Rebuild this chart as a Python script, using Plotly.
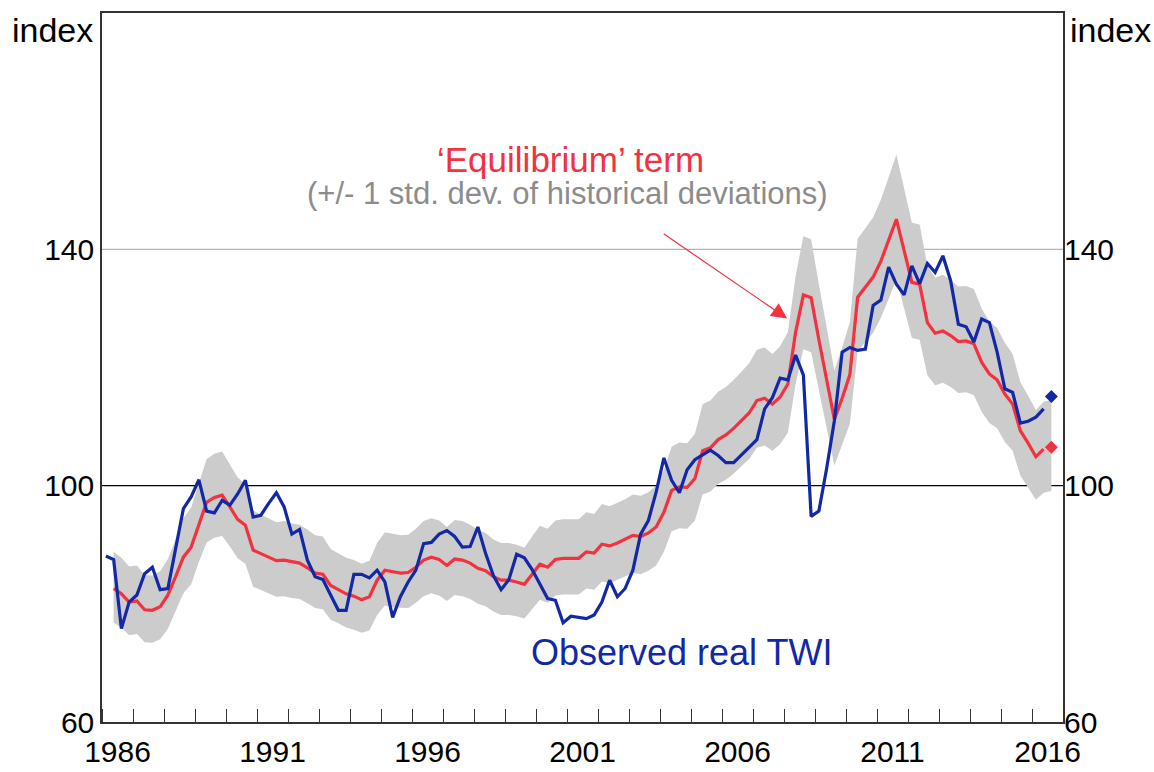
import pandas as pd
import plotly.graph_objects as go

# ---- Data (quarterly, 1986Q1 - 2016Q3; last quarter shown as a marker) ----

quarters = pd.period_range("1986Q1", "2016Q3", freq="Q")

observed_twi = [
    88.1, 87.5, 75.8, 80.3, 81.5, 85.1, 86.2, 82.4, 82.6, 89.6,
    96.1, 98.1, 101.0, 95.7, 95.4, 97.5, 96.7, 98.6, 100.9, 94.7,
    95.0, 97.0, 98.8, 96.4, 91.8, 92.6, 87.4, 84.6, 84.1, 81.5,
    78.9, 78.9, 85.0, 85.0, 84.4, 85.7, 83.7, 77.7, 81.2, 83.7,
    85.7, 90.2, 90.4, 91.8, 92.4, 91.4, 89.6, 89.7, 93.0, 88.5,
    84.8, 82.4, 84.1, 88.4, 87.8, 85.8, 83.4, 80.9, 80.6, 76.8,
    77.9, 77.7, 77.5, 78.1, 80.3, 84.0, 81.2, 82.6, 85.7, 91.8,
    94.1, 98.9, 104.7, 100.9, 98.8, 102.7, 104.4, 105.2, 106.0, 105.1,
    103.9, 103.9, 105.2, 106.4, 107.8, 113.0, 114.9, 118.2, 117.9, 122.1,
    118.7, 94.8, 95.7, 102.9, 111.0, 122.6, 123.4, 122.9, 123.1, 130.5,
    131.4, 137.0, 134.1, 132.3, 137.2, 134.2, 137.6, 136.1, 138.9, 134.7,
    127.3, 126.9, 124.3, 128.2, 127.6, 122.6, 116.4, 115.8, 110.6, 110.9,
    111.6, 113.0, 115.1,
]

equilibrium = [
    None, 82.6, 81.7, 80.3, 80.5, 79.0, 78.9, 79.5, 81.5, 84.6,
    87.9, 89.6, 93.6, 97.2, 98.0, 98.4, 96.4, 94.3, 93.3, 89.1,
    88.5, 87.9, 87.3, 87.4, 87.1, 86.9, 86.1, 85.2, 85.0, 83.1,
    82.4, 81.7, 81.3, 80.7, 81.2, 84.0, 85.7, 85.4, 85.2, 85.3,
    86.2, 87.4, 87.9, 87.5, 86.5, 87.6, 87.4, 86.9, 86.0, 85.6,
    84.6, 84.0, 84.0, 83.7, 83.3, 85.0, 86.7, 86.2, 87.5, 87.7,
    87.7, 87.7, 88.8, 88.6, 90.1, 89.8, 90.3, 90.9, 91.6, 91.4,
    92.0, 93.0, 95.5, 99.2, 99.8, 99.7, 101.2, 105.9, 106.4, 107.8,
    108.6, 109.7, 111.0, 112.3, 114.4, 114.8, 113.8, 115.0, 117.2, 126.0,
    132.3, 131.8, 124.7, 118.0, 111.2, 114.8, 118.8, 131.9, 133.6, 135.3,
    138.0, 141.5, 145.1, 139.8, 134.4, 134.1, 127.6, 125.8, 126.2, 125.4,
    124.4, 124.5, 124.0, 120.9, 118.9, 117.9, 115.5, 113.8, 109.3, 107.2,
    104.9, 106.2, 106.5,
]

# +/- 1 std. dev. band around the equilibrium term
band_upper = [
    None, 88.8, 87.8, 86.3, 86.5, 84.9, 84.8, 85.5, 87.6, 90.9,
    94.5, 96.3, 100.6, 104.5, 105.4, 105.8, 103.6, 101.4, 100.3, 95.8,
    95.1, 94.5, 93.8, 94.0, 93.6, 93.4, 92.6, 91.6, 91.4, 89.3,
    88.6, 87.8, 87.4, 86.8, 87.3, 90.3, 92.1, 91.8, 91.6, 91.7,
    92.7, 94.0, 94.5, 94.1, 93.0, 94.2, 94.0, 93.4, 92.5, 92.0,
    90.9, 90.3, 90.3, 90.0, 89.5, 91.4, 93.2, 92.7, 94.1, 94.3,
    94.3, 94.3, 95.5, 95.2, 96.9, 96.5, 97.1, 97.7, 98.5, 98.3,
    98.9, 100.0, 102.7, 106.6, 107.3, 107.2, 108.8, 113.8, 114.4, 115.9,
    116.7, 117.9, 119.3, 120.7, 123.0, 123.4, 122.3, 123.6, 126.0, 135.5,
    142.2, 141.7, 134.1, 126.9, 119.5, 123.4, 127.7, 141.8, 143.6, 145.4,
    148.4, 152.1, 156.0, 150.3, 144.5, 144.2, 137.2, 135.2, 135.7, 134.8,
    133.7, 133.8, 133.3, 130.0, 127.8, 126.7, 124.2, 122.3, 117.5, 115.2,
    112.8, 114.2, 114.5,
]

band_lower = [
    None, 76.8, 76.0, 74.7, 74.9, 73.5, 73.4, 74.0, 75.8, 78.7,
    81.8, 83.3, 87.1, 90.4, 91.2, 91.5, 89.7, 87.7, 86.8, 82.9,
    82.3, 81.8, 81.2, 81.3, 81.0, 80.8, 80.1, 79.3, 79.1, 77.3,
    76.7, 76.0, 75.6, 75.1, 75.5, 78.1, 79.7, 79.4, 79.3, 79.3,
    80.2, 81.3, 81.8, 81.4, 80.5, 81.5, 81.3, 80.8, 80.0, 79.6,
    78.7, 78.1, 78.1, 77.9, 77.5, 79.1, 80.7, 80.2, 81.4, 81.6,
    81.6, 81.6, 82.6, 82.4, 83.8, 83.5, 84.0, 84.6, 85.2, 85.0,
    85.6, 86.5, 88.8, 92.3, 92.8, 92.7, 94.1, 98.5, 99.0, 100.3,
    101.0, 102.0, 103.3, 104.5, 106.4, 106.8, 105.9, 107.0, 109.0, 117.2,
    123.1, 122.6, 116.0, 109.8, 103.4, 106.8, 110.5, 122.7, 124.3, 125.9,
    128.4, 131.6, 135.0, 130.0, 125.0, 124.7, 118.7, 117.0, 117.4, 116.7,
    115.7, 115.8, 115.3, 112.5, 110.6, 109.7, 107.4, 105.9, 101.7, 99.7,
    97.6, 98.8, 99.1,
]

year_labels = [1986, 1991, 1996, 2001, 2006, 2011, 2016]
y_ticks = [60, 100, 140]
# horizontal reference lines: value -> colour
ref_lines = {140: "#b4b4b4", 100: "black"}

RED = "#f2323f"
BLUE = "#1228a6"
BAND = "#cccccc"
FONT = "Liberation Sans, Arial, sans-serif"

# Quarter -> decimal year at the middle of the quarter
t = [p.year + (p.quarter - 0.5) / 4 for p in quarters]

df = pd.DataFrame(dict(t=t, twi=observed_twi, eq=equilibrium, up=band_upper, lo=band_lower))
band = df.dropna(subset=["up", "lo"])
hist = df.iloc[:-1]
last = df.iloc[[-1]]

fig = go.Figure()

# Shaded band
fig.add_trace(go.Scatter(
    x=list(band["t"]) + list(band["t"][::-1]),
    y=list(band["up"]) + list(band["lo"][::-1]),
    fill="toself", fillcolor=BAND, line=dict(width=0),
    mode="lines", hoverinfo="skip", showlegend=False,
))

# Equilibrium term
fig.add_trace(go.Scatter(
    x=hist["t"], y=hist["eq"], mode="lines",
    line=dict(color=RED, width=3.2), showlegend=False,
))

# Observed real TWI
fig.add_trace(go.Scatter(
    x=hist["t"], y=hist["twi"], mode="lines",
    line=dict(color=BLUE, width=3.2), showlegend=False,
))

# Latest quarter markers
fig.add_trace(go.Scatter(
    x=last["t"], y=last["twi"], mode="markers",
    marker=dict(color=BLUE, symbol="diamond", size=10), showlegend=False,
))
fig.add_trace(go.Scatter(
    x=last["t"], y=last["eq"], mode="markers",
    marker=dict(color=RED, symbol="diamond", size=10), showlegend=False,
))

# Invisible trace so the right-hand axis is drawn
fig.add_trace(go.Scatter(x=[], y=[], yaxis="y2", showlegend=False))

# Horizontal lines under the data
for level, colour in ref_lines.items():
    fig.add_hline(y=level, line=dict(color=colour, width=1.3), layer="below")

axis_font = dict(family=FONT, size=30, color="black")

fig.update_layout(
    width=1154, height=772,
    margin=dict(l=102, r=91, t=13, b=50, autoexpand=False),
    plot_bgcolor="white", paper_bgcolor="white",
    font=dict(family=FONT),
    xaxis=dict(
        range=[1986, 2017],
        tickvals=[y + 0.5 for y in year_labels],
        ticktext=[str(y) for y in year_labels],
        ticks="", tickfont=axis_font, ticklabelstandoff=2,
        showgrid=False, zeroline=False, automargin=False,
        showline=True, linecolor="#333333", linewidth=1.5, mirror=True,
        minor=dict(tick0=1986, dtick=1, ticks="inside", ticklen=13,
                   tickwidth=1.3, tickcolor="#333333", showgrid=False),
    ),
    yaxis=dict(
        range=[60, 180], tickvals=y_ticks, ticks="", tickfont=axis_font,
        showgrid=False, zeroline=False, automargin=False,
        showline=True, linecolor="#333333", linewidth=1.5, mirror=True,
    ),
    yaxis2=dict(
        range=[60, 180], tickvals=y_ticks, ticks="", tickfont=axis_font,
        overlaying="y", side="right", showgrid=False, zeroline=False,
        automargin=False,
    ),
)

# Text labels
fig.add_annotation(x=2001.1, y=155.2, text="‘Equilibrium’ term", showarrow=False,
                   font=dict(family=FONT, size=35, color=RED))
fig.add_annotation(x=2001.0, y=149.4, text="(+/- 1 std. dev. of historical deviations)",
                   showarrow=False, font=dict(family=FONT, size=31, color="#8c8c8c"))
fig.add_annotation(x=2004.7, y=71.8, text="Observed real TWI", showarrow=False,
                   font=dict(family=FONT, size=36, color=BLUE))
fig.add_annotation(x=2008.1, y=128.3, ax=2004.07, ay=142.8, axref="x", ayref="y",
                   text="", showarrow=True, arrowhead=2, arrowsize=2.6,
                   arrowwidth=1.2, arrowcolor=RED)

# Axis units
unit_font = dict(family=FONT, size=34, color="black")
fig.add_annotation(xref="paper", yref="paper", x=-0.007, y=0.9756,
                   xanchor="right", yanchor="middle",
                   text="index", showarrow=False, font=unit_font)
fig.add_annotation(xref="paper", yref="paper", x=1.005, y=0.9756,
                   xanchor="left", yanchor="middle",
                   text="index", showarrow=False, font=unit_font)

fig.write_html("out.html", config={"displayModeBar": False},
               post_script="document.body.style.margin='0';")
